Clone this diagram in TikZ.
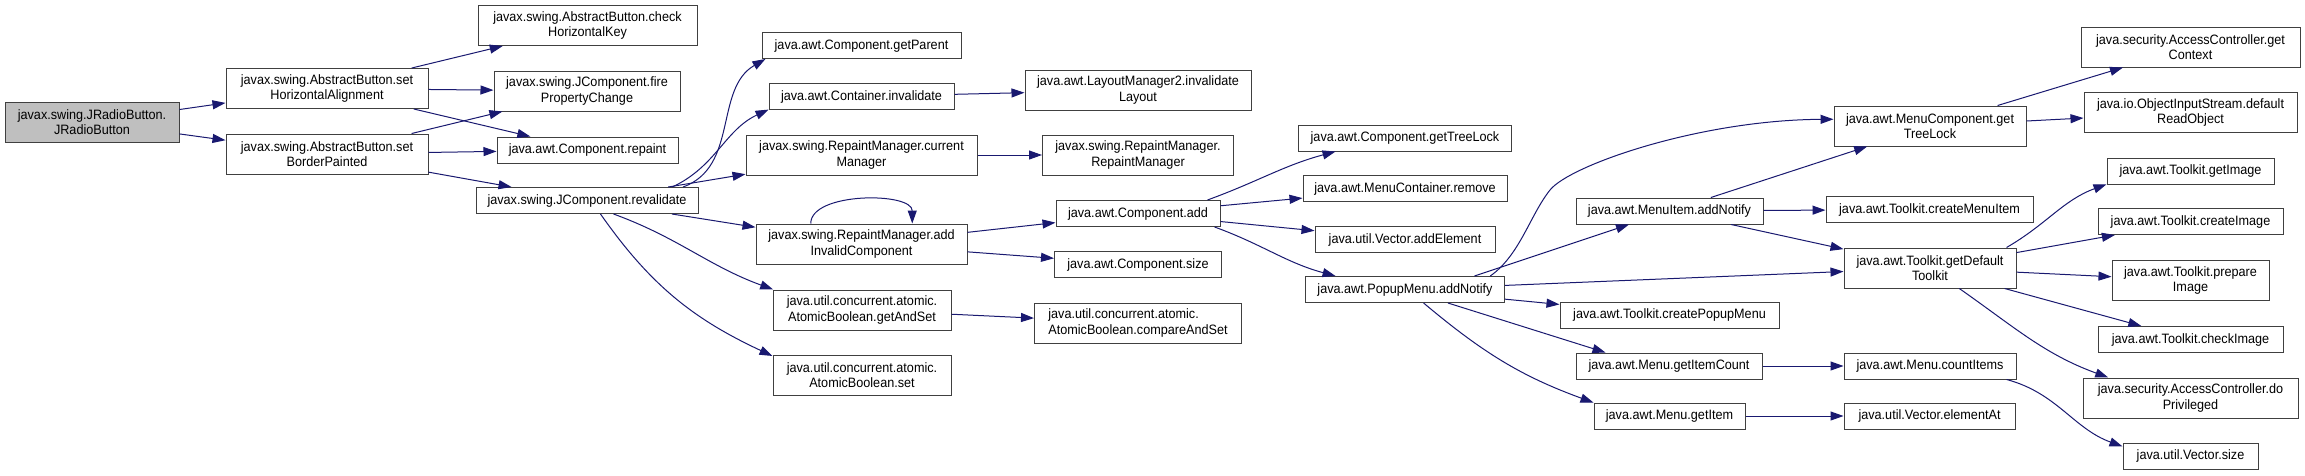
\documentclass[tikz,border=0pt]{standalone}
\usepackage{fontspec}
\setmainfont{Liberation Sans}[FakeStretch=0.93]
\usetikzlibrary{arrows.meta}

\definecolor{callblue}{HTML}{191970}
\definecolor{boxline}{HTML}{404040}
\definecolor{rootgrey}{HTML}{BFBFBF}

\begin{document}
\begin{tikzpicture}[x=1pt, y=-1pt,
        fn/.style={draw=boxline, line width=1pt, fill=white, inner sep=2pt,
            minimum height=26pt, align=center,
            font=\fontsize{13.6pt}{15.5pt}\selectfont},
        fntwo/.style={fn, minimum height=40pt},
        call/.style={callblue, line width=1pt,
            -{Triangle[length=13pt, width=9pt]}}]
        \fill[white] (0,0) rectangle (2305,475);
        \useasboundingbox (0,0) rectangle (2305,475);

        \node[fntwo, fill=rootgrey, minimum width=174pt] (rb) at (92,122) {javax.swing.JRadioButton.\\JRadioButton};
        \node[fntwo, minimum width=202pt] (sha) at (327,88.5) {javax.swing.AbstractButton.set\\HorizontalAlignment};
        \node[fntwo, minimum width=202pt] (sbp) at (327,154) {javax.swing.AbstractButton.set\\BorderPainted};
        \node[fntwo, minimum width=219pt] (chk) at (587.5,25.5) {javax.swing.AbstractButton.check\\HorizontalKey};
        \node[fntwo, minimum width=186pt] (fpc) at (587,91) {javax.swing.JComponent.fire\\PropertyChange};
        \node[fn, minimum width=181pt] (rep) at (587.5,150) {java.awt.Component.repaint};
        \node[fn, minimum width=222pt] (rev) at (587,200.5) {javax.swing.JComponent.revalidate};
        \node[fn, minimum width=199pt] (gpar) at (861.5,45.5) {java.awt.Component.getParent};
        \node[fn, minimum width=185pt] (cinv) at (861.5,96.5) {java.awt.Container.invalidate};
        \node[fntwo, minimum width=231pt] (cman) at (861.5,155) {javax.swing.RepaintManager.current\\Manager};
        \node[fntwo, minimum width=211pt] (addinv) at (861.5,244) {javax.swing.RepaintManager.add\\InvalidComponent};
        \node[fntwo, minimum width=178pt] (gas) at (862,310) {java.util.concurrent.atomic.\\AtomicBoolean.getAndSet};
        \node[fntwo, minimum width=178pt] (abset) at (862,375) {java.util.concurrent.atomic.\\AtomicBoolean.set};
        \node[fntwo, minimum width=226pt] (layinv) at (1138,90) {java.awt.LayoutManager2.invalidate\\Layout};
        \node[fntwo, minimum width=191pt] (rmctor) at (1138,155) {javax.swing.RepaintManager.\\RepaintManager};
        \node[fn, minimum width=164pt] (cadd) at (1138,213.5) {java.awt.Component.add};
        \node[fn, minimum width=167pt] (csize) at (1138,264.5) {java.awt.Component.size};
        \node[fntwo, minimum width=207pt, align=left] (cas) at (1138,323) {java.util.concurrent.atomic.\\AtomicBoolean.compareAndSet};
        \node[fn, minimum width=213pt] (gtl) at (1405,138) {java.awt.Component.getTreeLock};
        \node[fn, minimum width=204pt] (mcrem) at (1405,188.5) {java.awt.MenuContainer.remove};
        \node[fn, minimum width=180pt] (vadd) at (1405,239.5) {java.util.Vector.addElement};
        \node[fn, minimum width=199pt] (pmadd) at (1405,289.5) {java.awt.PopupMenu.addNotify};
        \node[fntwo, minimum width=192pt] (mcgtl) at (1930,126) {java.awt.MenuComponent.get\\TreeLock};
        \node[fn, minimum width=187pt] (miadd) at (1669.5,211) {java.awt.MenuItem.addNotify};
        \node[fn, minimum width=207pt] (cmi) at (1929.5,209.5) {java.awt.Toolkit.createMenuItem};
        \node[fntwo, minimum width=172pt] (gdt) at (1930,268) {java.awt.Toolkit.getDefault\\Toolkit};
        \node[fn, minimum width=219pt] (cpm) at (1669.5,315) {java.awt.Toolkit.createPopupMenu};
        \node[fn, minimum width=186pt] (gic) at (1669,366) {java.awt.Menu.getItemCount};
        \node[fn, minimum width=172pt] (cit) at (1930,366) {java.awt.Menu.countItems};
        \node[fn, minimum width=151pt] (gitem) at (1669.5,416) {java.awt.Menu.getItem};
        \node[fn, minimum width=171pt] (elat) at (1929.5,416) {java.util.Vector.elementAt};
        \node[fntwo, minimum width=219pt] (gctx) at (2190.5,47) {java.security.AccessController.get\\Context};
        \node[fntwo, minimum width=213pt] (dro) at (2190.5,112.5) {java.io.ObjectInputStream.default\\ReadObject};
        \node[fn, minimum width=167pt] (gimg) at (2190.5,171) {java.awt.Toolkit.getImage};
        \node[fn, minimum width=185pt] (cimg) at (2190.5,221.5) {java.awt.Toolkit.createImage};
        \node[fntwo, minimum width=157pt] (pimg) at (2190.5,280.5) {java.awt.Toolkit.prepare\\Image};
        \node[fn, minimum width=185pt] (chimg) at (2190.5,339.5) {java.awt.Toolkit.checkImage};
        \node[fntwo, minimum width=215pt] (dopriv) at (2190.5,398) {java.security.AccessController.do\\Privileged};
        \node[fn, minimum width=135pt] (vsize) at (2190.5,456) {java.util.Vector.size};

        \draw[call] (rb) -- (sha);
        \draw[call] (rb) -- (sbp);
        \draw[call] (sha) -- (chk);
        \draw[call] (sha) -- (fpc);
        \draw[call] (sha) -- (rep);
        \draw[call] (sbp) -- (fpc);
        \draw[call] (sbp) -- (rep);
        \draw[call] (sbp) -- (rev);
        \draw[call] (rev.8) to[out=20,in=210] (gpar.188);
        \draw[call] (rev.9) to[out=25,in=205] (cinv.188);
        \draw[call] (rev) -- (cman);
        \draw[call] (rev) -- (addinv);
        \draw[call] (rev.-27) to[out=-20,in=160] (gas.167);
        \draw[call] (rev.-45) to[out=-55,in=155] (abset.168);
        \draw[call] (cinv) -- (layinv);
        \draw[call] (cman) -- (rmctor);
        \draw[call] (addinv.158) to[out=90,in=90,looseness=0.8] (addinv.22);
        \draw[call] (addinv) -- (cadd);
        \draw[call] (addinv) -- (csize);
        \draw[call] (gas) -- (cas);
        \draw[call] (cadd.11) to[out=20,in=195] (gtl.191);
        \draw[call] (cadd) -- (mcrem);
        \draw[call] (cadd) -- (vadd);
        \draw[call] (cadd.-10) to[out=-20,in=165] (pmadd.169);
        \draw[call] (pmadd.9) .. controls (1520,255) and (1530,215) .. (1550,190) .. controls (1570,165) and (1700,120) .. (mcgtl.176);
        \draw[call] (pmadd.11) -- (miadd);
        \draw[call] (pmadd) -- (gdt);
        \draw[call] (pmadd) -- (cpm);
        \draw[call] (pmadd) -- (gic.168);
        \draw[call] (pmadd.-36) to[out=-40,in=160] (gitem.170);
        \draw[call] (miadd) -- (mcgtl);
        \draw[call] (miadd) -- (cmi);
        \draw[call] (miadd) -- (gdt);
        \draw[call] (mcgtl) -- (gctx);
        \draw[call] (mcgtl) -- (dro);
        \draw[call] (gdt.15) to[out=30,in=200] (gimg.189);
        \draw[call] (gdt) -- (cimg);
        \draw[call] (gdt) -- (pimg);
        \draw[call] (gdt) -- (chimg);
        \draw[call] (gdt.-35) to[out=-35,in=160] (dopriv.166);
        \draw[call] (gic) -- (cit);
        \draw[call] (cit.-10) to[out=-15,in=160] (vsize.172);
        \draw[call] (gitem) -- (elat);
    \end{tikzpicture}
\end{document}
